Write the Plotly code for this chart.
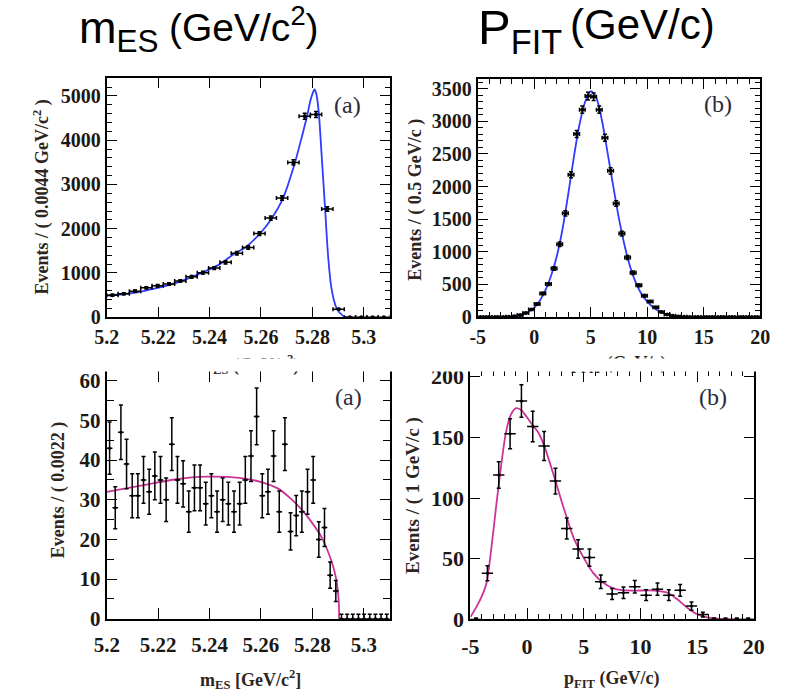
import numpy as np
import plotly.graph_objects as go

W, H = 792, 692

# ---------------- data ----------------
# (a) top: m_ES, bins of 0.0044 GeV/c^2 from 5.20 to 5.31
mes_top_lo, mes_top_bin = 5.20, 0.0044
mes_top_counts = [497, 530, 590, 665, 712, 752, 818, 913, 1007, 1110, 1241, 1445,
                  1577, 1890, 2241, 2694, 3497, 4540, 4577, 2446, 182, 0, 0, 0, 0]
mes_top_fit_x = [5.2000, 5.2060, 5.2120, 5.2180, 5.2245, 5.2310, 5.2371, 5.2440,
                 5.2497, 5.2541, 5.2597, 5.2641, 5.2685, 5.2729, 5.2761, 5.2780,
                 5.2792, 5.2802, 5.2808, 5.2815, 5.2824, 5.2836, 5.2849, 5.2861,
                 5.2874, 5.2893, 5.2918, 5.2937]
mes_top_fit_y = [489, 520, 562, 640, 730, 860, 1007, 1200,
                 1438, 1585, 1898, 2227, 2679, 3431, 4124, 4562,
                 4890, 5074, 5146, 5050, 4671, 3650, 2481, 1386,
                 657, 219, 37, 0]

# (b) top: p_FIT, bins of 0.5 GeV/c from -5 to 20
pfit_top_lo, pfit_top_bin = -5.0, 0.5
pfit_top_counts = [0, 0, 0, 0, 0, 3, 12, 30, 62, 115, 200, 360, 505, 745, 1115, 1590,
                   2180, 2805, 3178, 3386, 3376, 3178, 2747, 2241, 1740, 1279, 912,
                   679, 486, 327, 238, 149, 79, 40, 20, 9, 4, 1,
                   0, 0, 0, 0, 0, 0, 0, 0, 0, 0, 0, 0]
pfit_top_fit_x = [-5, -3, -2, -1, -0.5, 0, 0.5, 1, 1.5, 2, 2.5, 3, 3.5, 4, 4.5, 5,
                  5.5, 6, 6.5, 7, 7.5, 8, 8.5, 9, 9.5, 10, 10.5, 11, 11.5, 12, 13, 14, 20]
pfit_top_fit_y = [0, 0, 8, 40, 80, 145, 255, 415, 640, 940, 1350, 1880, 2450, 2950, 3300, 3460,
                  3350, 3000, 2500, 1990, 1500, 1090, 760, 520, 350, 235, 150, 95, 55, 30, 8, 0, 0]

# (a) bottom: m_ES, bins of 0.0022 from 5.20 to 5.31
mes_bot_lo, mes_bot_bin = 5.20, 0.0022
mes_bot_counts = [43, 28, 47, 39, 31, 31, 35, 32, 36, 35, 30, 44, 35, 34, 27, 33, 33,
                  29, 31, 27, 30, 29, 27, 29, 35, 41, 51, 31, 32, 41, 27, 44, 22, 26,
                  27, 32, 35, 20, 23, 11, 7, 0, 0, 0, 0, 0, 0, 0, 0, 0]
mes_bot_fit_x = [5.2000, 5.2138, 5.2264, 5.2390, 5.2516, 5.2604, 5.2667, 5.2717,
                 5.2761, 5.2805, 5.2837, 5.2862, 5.2881, 5.2893, 5.2902, 5.2904]
mes_bot_fit_y = [32.0, 33.6, 35.1, 35.8, 35.5, 34.4, 32.8, 30.2,
                 27.3, 23.6, 20.4, 16.7, 13.1, 9.8, 4.9, 0.0]

# (b) bottom: p_FIT, bins of 1 GeV/c from -5 to 20
pfit_bot_lo, pfit_bot_bin = -5.0, 1.0
pfit_bot_counts = [0, 38, 119, 153, 180, 159, 143, 114, 75, 58, 51, 31, 21, 22, 27,
                   20, 25, 20, 24, 11, 4, 0, 0, 0, 0]
pfit_bot_fit_x = [-5.0, -4.43, -4.0, -3.58, -3.15, -2.72, -2.30, -1.87, -1.44, -1.01,
                  -0.58, -0.16, 0.41, 0.99, 1.55, 2.41, 3.26, 4.12, 4.98, 5.83, 6.69,
                  7.54, 8.4, 9.54, 11.25, 12.39, 13.25, 14.1, 14.96, 15.8, 16.95, 18.0, 20.0]
pfit_bot_fit_y = [2, 11, 19, 30, 59, 94, 126, 154, 168.6, 174,
                  173, 168.6, 161, 154, 142, 117, 91, 67, 51, 38.4, 30.4,
                  25.9, 24.1, 23.8, 23.8, 22, 16.6, 9.9, 4.5, 1.9, 0.5, 0, 0]

mes_tickvals = [5.20, 5.22, 5.24, 5.26, 5.28, 5.30]
mes_ticktext = ["5.2", "5.22", "5.24", "5.26", "5.28", "5.3"]
pfit_tickvals = [-5, 0, 5, 10, 15, 20]
pfit_ticktext = ["-5", "0", "5", "10", "15", "20"]

# ---------------- styling ----------------
SERIF = "Liberation Serif, Times New Roman, serif"
SANS = "Liberation Sans, Arial, sans-serif"
INK = "#1c1814"
TITLE_INK = "#2e261e"
BLUE = "rgb(45,60,255)"
MAGENTA = "#cc3399"


def px_x(x):
    return x / W


def px_y(y):
    return 1 - y / H


def poisson_errors(counts):
    up = [np.sqrt(n) if n > 0 else 1.15 for n in counts]
    down = [np.sqrt(n) for n in counts]
    return up, down


def bin_centres(lo, width, n):
    return [lo + width * (i + 0.5) for i in range(n)]


fig = go.Figure()

panels = [
    # name, counts, lo, width, fit_x, fit_y, colour, marker size, x-caps
    ("1", mes_top_counts, mes_top_lo, mes_top_bin, mes_top_fit_x, mes_top_fit_y, BLUE, 4, 2),
    ("2", pfit_top_counts, pfit_top_lo, pfit_top_bin, pfit_top_fit_x, pfit_top_fit_y, BLUE, 4, 2),
    ("3", mes_bot_counts, mes_bot_lo, mes_bot_bin, mes_bot_fit_x, mes_bot_fit_y, MAGENTA, 3, 0),
    ("4", pfit_bot_counts, pfit_bot_lo, pfit_bot_bin, pfit_bot_fit_x, pfit_bot_fit_y, MAGENTA, 3, 0),
]

for name, counts, lo, width, fx, fy, colour, msize, xcap in panels:
    xa = "x" if name == "1" else "x" + name
    ya = "y" if name == "1" else "y" + name
    centres = bin_centres(lo, width, len(counts))
    up, down = poisson_errors(counts)
    fig.add_trace(go.Scatter(
        x=fx, y=fy, mode="lines", line=dict(color=colour, width=1.8, shape="spline", smoothing=0.8),
        xaxis=xa, yaxis=ya, hoverinfo="skip", showlegend=False))
    fig.add_trace(go.Scatter(
        x=centres, y=counts, mode="markers",
        marker=dict(color="black", size=msize),
        error_x=dict(type="constant", value=width / 2, color="black", thickness=1.5, width=xcap),
        error_y=dict(type="data", array=up, arrayminus=down, color="black", thickness=1.5, width=2),
        xaxis=xa, yaxis=ya, showlegend=False))

# plot frames in pixels: left, right, top, bottom
frames = {
    "1": (96.7, 388.3, 73.3, 319.5),
    "2": (479.3, 770.7, 74.0, 319.3),
    "3": (96.7, 388.3, 375.0, 630.0),
    "4": (471.7, 764.0, 375.0, 630.7),
}

axis_common = dict(showline=True, linecolor="black", linewidth=2, mirror="ticks",
                   ticks="inside", tickcolor="black", tickwidth=1.4, showgrid=False,
                   zeroline=False)

MINOR = dict(ticks="inside", ticklen=5, tickcolor="black", tickwidth=1.2)
xspec = {
    "1": dict(range=[5.2, 5.31], tickvals=mes_tickvals, ticktext=mes_ticktext, ticklen=10,
              ticklabelstandoff=1),
    "2": dict(range=[-5, 20], tickvals=pfit_tickvals, ticktext=pfit_ticktext, ticklen=10,
              ticklabelstandoff=1, minor=dict(MINOR, dtick=1, tick0=-5)),
    "3": dict(range=[5.2, 5.31], tickvals=mes_tickvals, ticktext=mes_ticktext, ticklen=11,
              ticklabelstandoff=6),
    "4": dict(range=[-5, 20], tickvals=pfit_tickvals, ticktext=pfit_ticktext, ticklen=11,
              ticklabelstandoff=6, minor=dict(MINOR, dtick=1, tick0=-5)),
}
yspec = {
    "1": dict(range=[0, 5400], dtick=1000, ticklen=10, minor=dict(MINOR, dtick=200)),
    "2": dict(range=[0, 3650], dtick=500, ticklen=10, minor=dict(MINOR, dtick=100)),
    "3": dict(range=[0, 62.4], dtick=10, ticklen=10, minor=dict(MINOR, dtick=5, ticklen=7)),
    "4": dict(range=[0, 204.6], dtick=50, ticklen=10),
}
tick_size = {"1": 20, "2": 20, "3": 21, "4": 22}

layout_axes = {}
for name, (l, r, t, b) in frames.items():
    xkey = "xaxis" if name == "1" else "xaxis" + name
    ykey = "yaxis" if name == "1" else "yaxis" + name
    xref = "y" if name == "1" else "y" + name
    yref = "x" if name == "1" else "x" + name
    tickfont = dict(family=SERIF, color=INK, size=tick_size[name], weight="bold")
    layout_axes[xkey] = dict(axis_common, domain=[px_x(l), px_x(r)], anchor=xref,
                             tickfont=tickfont, **xspec[name])
    layout_axes[ykey] = dict(axis_common, domain=[px_y(b), px_y(t)], anchor=yref,
                             tickfont=tickfont, **yspec[name])

fig.update_layout(width=W, height=H, margin=dict(l=0, r=0, t=0, b=0), autosize=False,
                  paper_bgcolor="white", plot_bgcolor="white", **layout_axes)

annotations = []


def note(text, x, y, size, family=SERIF, color=TITLE_INK, angle=0, xanchor="center",
         yanchor="middle", weight="normal", **kw):
    annotations.append(dict(text=text, x=px_x(x), y=px_y(y), xref="paper", yref="paper",
                            xanchor=xanchor, yanchor=yanchor, showarrow=False, textangle=angle,
                            font=dict(family=family, size=size, color=color, weight=weight), **kw))


# y-axis titles
note("Events / ( 0.0044 GeV/c<sup>2</sup> )", 30, 196, 18, angle=-90, weight="bold")
note("Events / ( 0.5 GeV/c )", 415, 198, 18, angle=-90, weight="bold")
note("Events / ( 0.0022 )", 47, 497, 18, angle=-90, weight="bold")
note("Events / ( 1 GeV/c )", 413, 503, 19, angle=-90, weight="bold")

# x-axis titles (lower row complete, upper row trimmed by the lower panels)
note("m<sub>ES</sub> (GeV/c<sup>2</sup>)", 243, 368, 18, weight="bold")
note("p<sub>FIT</sub> (GeV/c)", 624, 368, 18, weight="bold")
note(" ", 396, 361, 4, xanchor="center", yanchor="top", width=792, height=12,
     bgcolor="white", borderpad=0)
note("m<sub>ES</sub> [GeV/c<sup>2</sup>]", 245, 692, 18, weight="bold")
note("p<sub>FIT</sub> (GeV/c)", 617, 693, 18, weight="bold")

# panel labels
note("(a)", 345, 101, 24, color="#2a2a3a")
note("(b)", 727, 100, 24, color="#2a2a3a")
note("(a)", 346, 402, 24, color="#2a2a3a")
note("(b)", 722, 402, 24, color="#2a2a3a")

# column headings
note("m<sub>ES</sub>", 67, -6, 45, family=SANS, color="black", xanchor="left", yanchor="top",
     borderpad=0)
note("(GeV/c<sup>2</sup>)", 160, -8, 39, family=SANS, color="black", xanchor="left",
     yanchor="top", borderpad=0)
note("P<sub>FIT</sub>", 479, -8, 49, family=SANS, color="black", xanchor="left", yanchor="top",
     borderpad=0)
note("(GeV/c)", 573, -7, 42, family=SANS, color="black", xanchor="left", yanchor="top",
     borderpad=0)

fig.update_layout(annotations=annotations)
fig.write_html("out.html")
